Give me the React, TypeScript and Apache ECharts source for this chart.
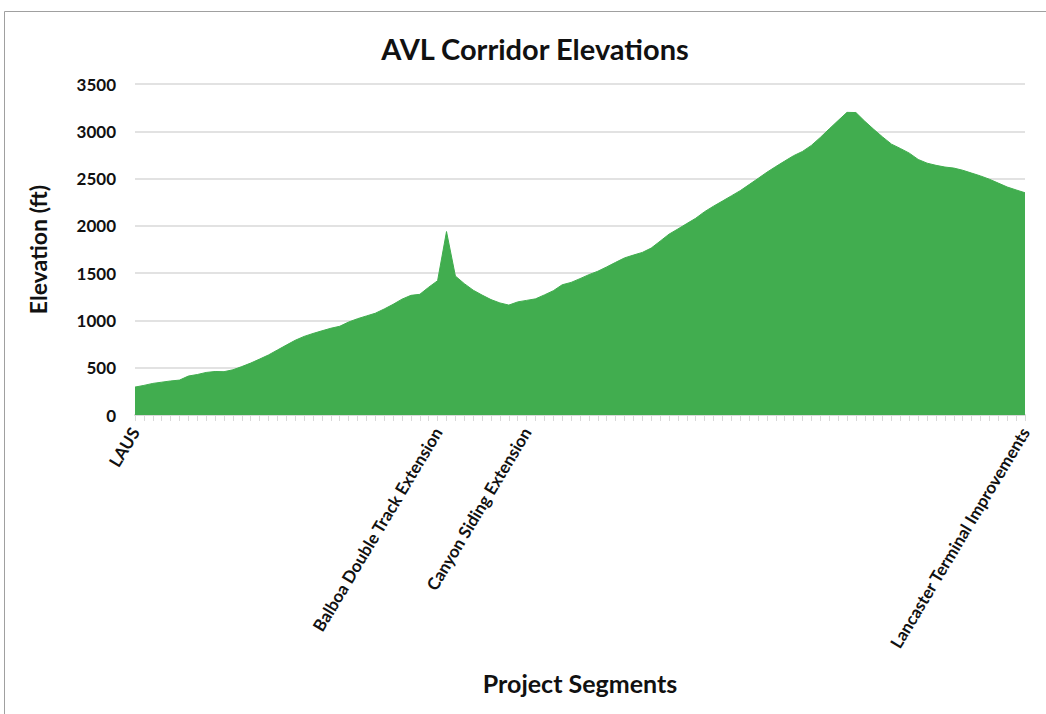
import React, { useEffect, useRef } from "react";
import * as echarts from "echarts";

// Elevation profile (ft) read at each profile point along the corridor
const elevationFt = [
  295, 313, 334, 347, 360, 369, 412, 428, 450, 460,
  458, 478, 512, 549, 591, 635, 687, 739, 790, 831,
  862, 890, 917, 938, 983, 1018, 1047, 1076, 1121, 1170,
  1225, 1265, 1276, 1351, 1420, 1940, 1469, 1389, 1320, 1268,
  1220, 1185, 1162, 1196, 1212, 1228, 1270, 1314, 1377, 1402,
  1442, 1484, 1520, 1566, 1614, 1661, 1691, 1719, 1765, 1838,
  1912, 1967, 2024, 2080, 2150, 2208, 2262, 2317, 2372, 2436,
  2501, 2567, 2627, 2685, 2742, 2787, 2851, 2935, 3025, 3113,
  3200, 3198, 3106, 3021, 2940, 2864, 2818, 2769, 2702, 2663,
  2640, 2622, 2611, 2588, 2558, 2528, 2493, 2452, 2411, 2380,
  2350,
];

const pointIds = elevationFt.map((_, i) => `P${i}`);

const segmentIndex = [0, 34, 44, 100];
const segmentNames = [
  "LAUS",
  "Balboa Double Track Extension",
  "Canyon Siding Extension",
  "Lancaster Terminal Improvements",
];

const yTicks = { min: 0, max: 3500, interval: 500 };

export default function App() {
  const ref = useRef<HTMLDivElement>(null);
  useEffect(() => {
    const chart = echarts.init(ref.current!, null, { renderer: "svg" });
    const font = "Lato";
    const dark = "#111111";
    chart.setOption({
      animation: false,
      backgroundColor: "#ffffff",
      textStyle: { fontFamily: font },
      title: {
        text: "AVL Corridor Elevations",
        left: 530,
        top: 29,
        textAlign: "center",
        textStyle: { fontFamily: font, fontWeight: "bold", fontSize: 29, color: dark },
      },
      grid: { left: 135, right: 21, top: 84, bottom: 299 },
      xAxis: {
        type: "category",
        boundaryGap: false,
        data: pointIds,
        name: "Project Segments",
        nameLocation: "middle",
        nameGap: 255,
        nameTextStyle: { fontFamily: font, fontSize: 25, fontWeight: "bold", color: dark },
        axisLine: { lineStyle: { color: "#d9d9d9", width: 2 } },
        axisTick: { show: true, interval: 0, length: 6, lineStyle: { color: "#d9d9d9" } },
        axisLabel: {
          interval: 0,
          rotate: 59,
          margin: 14,
          fontFamily: font,
          fontSize: 17,
          fontWeight: "bold",
          color: dark,
          formatter: (_v: string, idx: number) => {
            const k = segmentIndex.indexOf(idx);
            return k >= 0 ? segmentNames[k] : "";
          },
        },
      },
      yAxis: {
        type: "value",
        min: yTicks.min,
        max: yTicks.max,
        interval: yTicks.interval,
        name: "Elevation (ft)",
        nameLocation: "middle",
        nameGap: 86,
        nameTextStyle: { fontFamily: font, fontSize: 23, fontWeight: "bold", color: dark },
        axisLine: { show: false },
        axisTick: { show: false },
        axisLabel: {
          margin: 19,
          fontFamily: font,
          fontSize: 17,
          fontWeight: "bold",
          color: dark,
          formatter: (v: number) => String(v),
        },
        splitLine: { lineStyle: { color: "#d9d9d9", width: 1.5 } },
      },
      series: [
        {
          type: "line",
          data: elevationFt,
          symbol: "none",
          lineStyle: { color: "#41ad4f", width: 1 },
          itemStyle: { color: "#41ad4f" },
          areaStyle: { color: "#41ad4f", opacity: 1 },
        },
      ],
      graphic: [
        {
          type: "rect",
          silent: true,
          shape: { x: 4.5, y: 11.5, width: 1100, height: 800 },
          style: { fill: "none", stroke: "#a0a0a0", lineWidth: 1 },
        },
      ],
    });
    return () => chart.dispose();
  }, []);
  return (
    <div
      ref={ref}
      style={{ position: "fixed", left: 0, top: 0, width: 1046, height: 714, background: "#fff" }}
    />
  );
}
